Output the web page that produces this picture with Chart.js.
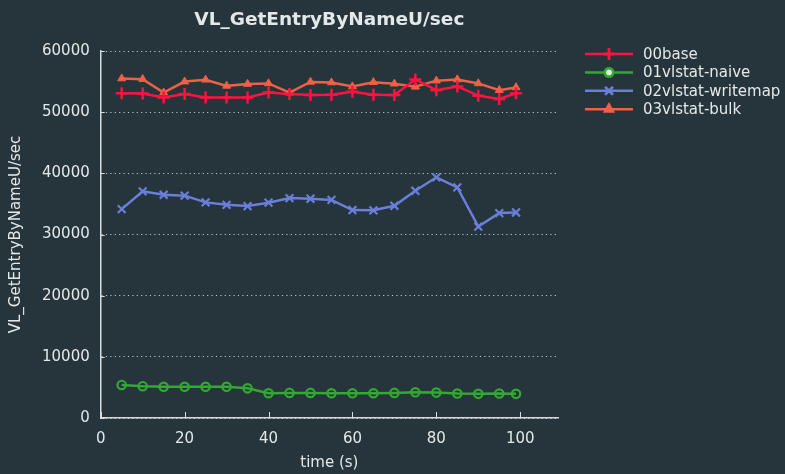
<!DOCTYPE html>
<html>
<head>
<meta charset="utf-8">
<script src="https://cdn.jsdelivr.net/npm/chart.js@4"></script>
<style>
  html, body { margin: 0; padding: 0; background: #25353b; }
  #wrap { width: 785px; height: 474px; }
</style>
</head>
<body>
<div id="wrap"><canvas id="c" width="785" height="474"></canvas></div>
<script>
const times = [5, 10, 15, 20, 25, 30, 35, 40, 45, 50, 55, 60, 65, 70, 75, 80, 85, 90, 95, 99];
const base = [53100, 53050, 52400, 52950, 52400, 52400, 52400, 53200, 52950, 52800, 52850, 53350, 52850, 52800, 55350, 53600, 54200, 52700, 52150, 53100];
const naive = [5400, 5200, 5100, 5100, 5100, 5100, 4850, 4050, 4100, 4100, 4050, 4050, 4050, 4100, 4200, 4150, 4000, 3950, 4000, 3950];
const writemap = [34150, 37050, 36500, 36350, 35250, 34850, 34650, 35200, 35950, 35850, 35650, 34000, 33950, 34700, 37150, 39350, 37700, 31300, 33500, 33600];
const bulk = [55500, 55400, 53200, 55000, 55300, 54300, 54600, 54700, 53200, 54950, 54850, 54200, 54900, 54650, 54150, 55150, 55350, 54700, 53600, 54050];
const seriesNames = ['00base', '01vlstat-naive', '02vlstat-writemap', '03vlstat-bulk'];
const yTicks = [0, 10000, 20000, 30000, 40000, 50000, 60000];
const xTicks = [0, 20, 40, 60, 80, 100];
const chartTitle = 'VL_GetEntryByNameU/sec';
const xTitle = 'time (s)';

const textColor = '#e4e8e8';
const font = 'DejaVu Sans';

function pts(ys) { return times.map((t, i) => ({x: t, y: ys[i]})); }

const sets = [
  {label: seriesNames[0], data: pts(base), borderColor: '#fa1440', backgroundColor: '#fa1440', pointStyle: 'cross', pointRadius: 6, pointBorderWidth: 2.5},
  {label: seriesNames[1], data: pts(naive), borderColor: '#33a832', backgroundColor: 'rgba(0,0,0,0)', pointStyle: 'circle', pointRadius: 4.2, pointBorderWidth: 2.2},
  {label: seriesNames[2], data: pts(writemap), borderColor: '#6b7ed9', backgroundColor: '#6b7ed9', pointStyle: 'crossRot', pointRadius: 5.5, pointBorderWidth: 2.2},
  {label: seriesNames[3], data: pts(bulk), borderColor: '#ef6047', backgroundColor: '#ef6047', pointStyle: 'triangle', pointRadius: 4.6, pointBorderWidth: 1}
];
sets.forEach(s => { s.borderWidth = 2.5; s.tension = 0; s.fill = false; });

// inward tick marks on both axes, title centred over the plot, x axis title
const innerTicks = {
  id: 'innerTicks',
  afterDraw(chart) {
    const c = chart.ctx, x = chart.scales.x, y = chart.scales.y;
    const mid = (chart.chartArea.left + chart.chartArea.right) / 2;
    c.save();
    c.strokeStyle = '#d8dcdc';
    c.lineWidth = 1;
    yTicks.forEach(v => {
      const py = Math.round(y.getPixelForValue(v)) + 0.5;
      c.beginPath(); c.moveTo(x.left, py); c.lineTo(x.left + 4, py); c.stroke();
    });
    xTicks.forEach(v => {
      const px = Math.round(x.getPixelForValue(v)) + 0.5;
      c.beginPath(); c.moveTo(px, y.bottom); c.lineTo(px, y.bottom - 6); c.stroke();
    });
    c.fillStyle = textColor;
    c.textAlign = 'center';
    c.textBaseline = 'middle';
    c.font = 'bold 18.5px "' + font + '"';
    c.fillText(chartTitle, mid, 20);
    c.font = '15px "' + font + '"';
    c.fillText(xTitle, mid, 463);
    c.restore();
  }
};

// gnuplot-like legend: line sample with a marker in the middle
const sideLegend = {
  id: 'sideLegend',
  afterDraw(chart) {
    const c = chart.ctx;
    c.save();
    chart.data.datasets.forEach((ds, i) => {
      const yy = 54 + i * 18.4;
      c.strokeStyle = ds.borderColor;
      c.lineWidth = 2.5;
      c.beginPath(); c.moveTo(585, yy); c.lineTo(633, yy); c.stroke();
      Chart.helpers.drawPoint(c, {
        pointStyle: ds.pointStyle, radius: ds.pointRadius, borderWidth: ds.pointBorderWidth, rotation: 0
      }, 609, yy);
      c.fillStyle = ds.backgroundColor;
      c.lineWidth = ds.pointBorderWidth;
      if (ds.pointStyle === 'triangle') c.fill();
      c.stroke();
      c.fillStyle = textColor;
      c.font = '15px "' + font + '"';
      c.textBaseline = 'middle';
      c.fillText(ds.label, 643, yy + 1);
    });
    c.restore();
  }
};

new Chart(document.getElementById('c'), {
  type: 'line',
  data: {datasets: sets},
  options: {
    responsive: false,
    animation: false,
    layout: {padding: {top: 51, right: 227, left: 3, bottom: 14}},
    plugins: {
      legend: {display: false},
      tooltip: {enabled: false},
      title: {display: false}
    },
    scales: {
      x: {
        type: 'linear', min: 0, max: 109,
        afterBuildTicks: a => { a.ticks = xTicks.map(v => ({value: v})); },
        grid: {display: false, drawTicks: false},
        border: {display: true, color: '#d8dcdc', width: 1.5},
        ticks: {color: textColor, font: {family: font, size: 15}, padding: 12}
      },
      y: {
        min: 0, max: 60000,
        afterBuildTicks: a => { a.ticks = yTicks.map(v => ({value: v})); },
        grid: {color: 'rgba(220,225,225,0.85)', lineWidth: 1, drawTicks: false},
        border: {display: true, color: '#d8dcdc', width: 1.5, dash: [1.2, 3.2]},
        ticks: {color: textColor, font: {family: font, size: 15}, padding: 11, callback: v => String(v)},
        title: {display: true, text: 'VL_GetEntryByNameU/sec', color: textColor, font: {family: font, size: 15}, padding: {top: 4, bottom: 6}}
      }
    }
  },
  plugins: [innerTicks, sideLegend]
});
</script>
</body>
</html>
